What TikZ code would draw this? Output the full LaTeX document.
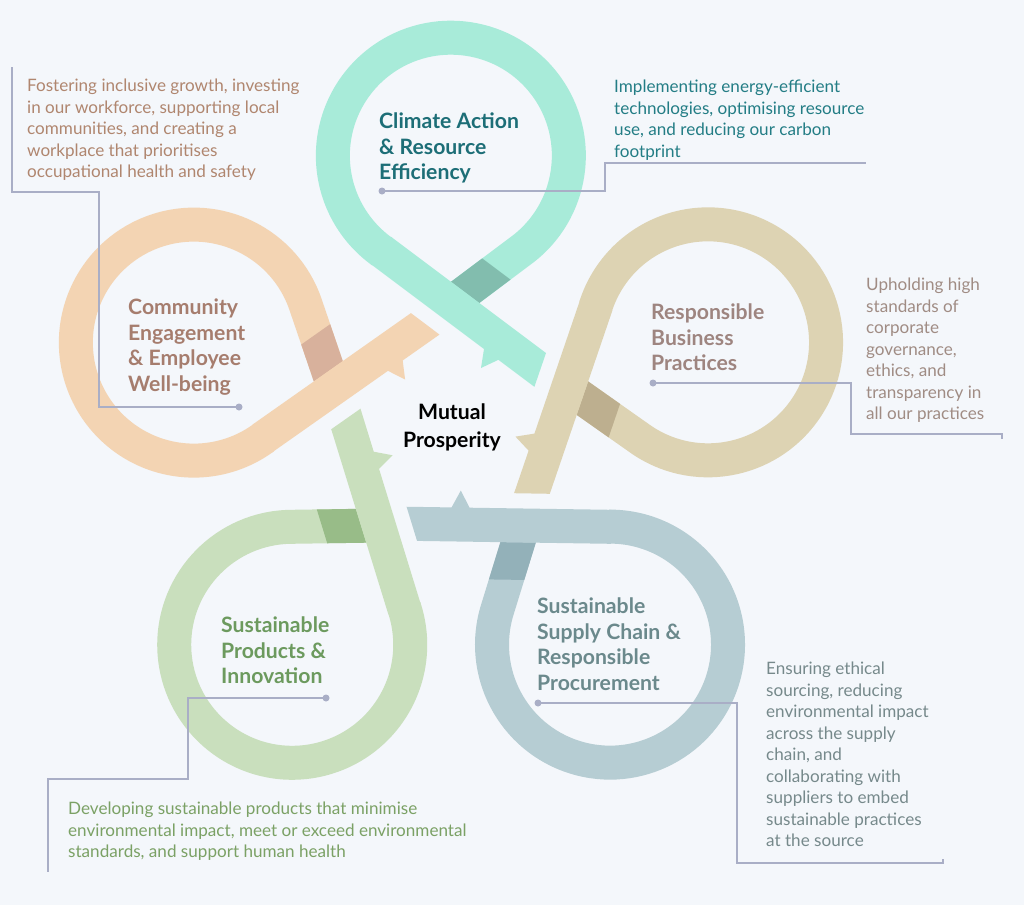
\documentclass[tikz,border=0pt]{standalone}
\usepackage{fontspec}
\setmainfont{Lato}
\definecolor{bg}{HTML}{F4F7FB}
\definecolor{tealband}{HTML}{A8EBD9}
\definecolor{tealdark}{HTML}{82BDAE}
\definecolor{tealtitle}{HTML}{1D6E77}
\definecolor{tealdesc}{HTML}{237D85}
\definecolor{orband}{HTML}{F3D4B3}
\definecolor{ordark}{HTML}{D8B19C}
\definecolor{ortitle}{HTML}{A67D6E}
\definecolor{ordesc}{HTML}{B0866F}
\definecolor{tanband}{HTML}{DDD3B3}
\definecolor{tandark}{HTML}{BDAF8F}
\definecolor{tantitle}{HTML}{9E8580}
\definecolor{tandesc}{HTML}{A08C84}
\definecolor{grband}{HTML}{C9DFBD}
\definecolor{grdark}{HTML}{98BC88}
\definecolor{grtitle}{HTML}{6C9A5E}
\definecolor{grdesc}{HTML}{7BA165}
\definecolor{blband}{HTML}{B6CDD3}
\definecolor{bldark}{HTML}{93B1B9}
\definecolor{bltitle}{HTML}{6B898C}
\definecolor{bldesc}{HTML}{76898B}
\definecolor{callout}{HTML}{A9AEC6}
\tikzset{
  title/.style={font=\bfseries\fontsize{21.2}{25.5}\selectfont, align=left, anchor=north west, inner sep=0pt},
  desc/.style={font=\fontsize{17.1}{21.5}\selectfont, align=left, anchor=north west, inner sep=0pt},
  cline/.style={draw=callout, line width=1.3pt},
  cdot/.style={circle, fill=callout, inner sep=0pt, minimum size=7pt},
}
\newcommand\myribbon[3]{%
  \begin{scope}[shift={(451,426)}, rotate=#1]
    \draw[line width=34pt, #2] (0,-123) -- (70.2,-175.6) arc[start angle=53.4, end angle=-234.5, radius=118];
    \fill[#3] (0,-144.25) -- (31.2,-167.6) -- (59.5,-146.4) -- (28.3,-123) -- cycle;
    \fill[#2] (-60,-189.2) -- (95,-73) -- (83.4,-39.2) -- (47.4,-66.2) -- (30,-58) -- (33,-77) -- (-80.4,-162) -- cycle;
  \end{scope}}
\begin{document}
\begin{tikzpicture}[x=1pt,y=-1pt]
\fill[bg] (0,0) rectangle (1024,905);
\useasboundingbox (0,0) rectangle (1024,905);
% ribbons
\myribbon{0}{tealband}{tealdark}
\myribbon{72}{orband}{ordark}
\myribbon{144}{grband}{grdark}
\myribbon{216}{blband}{bldark}
\myribbon{288}{tanband}{tandark}
% titles
\node[title, text=tealtitle] (tclim) at (379,113) {Climate Action\\\& Resource\\Efficiency};
\node[title, text=ortitle] (tcomm) at (128,299) {Community\\Engagement\\\& Employee\\Well-being};
\node[title, text=tantitle] (tresp) at (651,304) {Responsible\\Business\\Practices};
\node[title, text=grtitle] (tprod) at (221,617) {Sustainable\\Products \&\\Innovation};
\node[title, text=bltitle] (tsupp) at (537,598) {Sustainable\\Supply Chain \&\\Responsible\\Procurement};
\node[font=\bfseries\fontsize{21.2}{28}\selectfont, align=center, anchor=north, inner sep=0pt] (mp) at (452,404) {Mutual\\Prosperity};
% descriptions
\node[desc, text=tealdesc] (dclim) at (614,80) {Implementing energy-efficient\\technologies, optimising resource\\use, and reducing our carbon\\footprint};
\node[desc, text=ordesc] (dcomm) at (27,79) {Fostering inclusive growth, investing\\in our workforce, supporting local\\communities, and creating a\\workplace that prioritises\\occupational health and safety};
\node[desc, text=tandesc] (dresp) at (866,278) {Upholding high\\standards of\\corporate\\governance,\\ethics, and\\transparency in\\all our practices};
\node[desc, text=grdesc] (dprod) at (68,802) {Developing sustainable products that minimise\\environmental impact, meet or exceed environmental\\standards, and support human health};
\node[desc, text=bldesc] (dsupp) at (766,662) {Ensuring ethical\\sourcing, reducing\\environmental impact\\across the supply\\chain, and\\collaborating with\\suppliers to embed\\sustainable practices\\at the source};
% callouts
\node[cdot] (pclim) at (382,191) {};
\node[cdot] (pcomm) at (239,407) {};
\node[cdot] (presp) at (653,383) {};
\node[cdot] (pprod) at (326,698) {};
\node[cdot] (psupp) at (538,703) {};
\coordinate (eclim) at (866,163);
\coordinate (ecomm) at (12,67);
\coordinate (eresp) at (1002,439);
\coordinate (eprod) at (48,872);
\coordinate (esupp) at (943,859);
\draw[cline] (pclim.center) -- (605,191) -- (605,163) -- (eclim);
\draw[cline] (pcomm.center) -- (99,407) -- (99,192) -- (12,192) -- (ecomm);
\draw[cline] (presp.center) -- (851,383) -- (851,434) -- (1002,434) -- (eresp);
\draw[cline] (pprod.center) -- (188,698) -- (188,779) -- (48,779) -- (eprod);
\draw[cline] (psupp.center) -- (737,703) -- (737,863) -- (943,863) -- (esupp);
\end{tikzpicture}
\end{document}
